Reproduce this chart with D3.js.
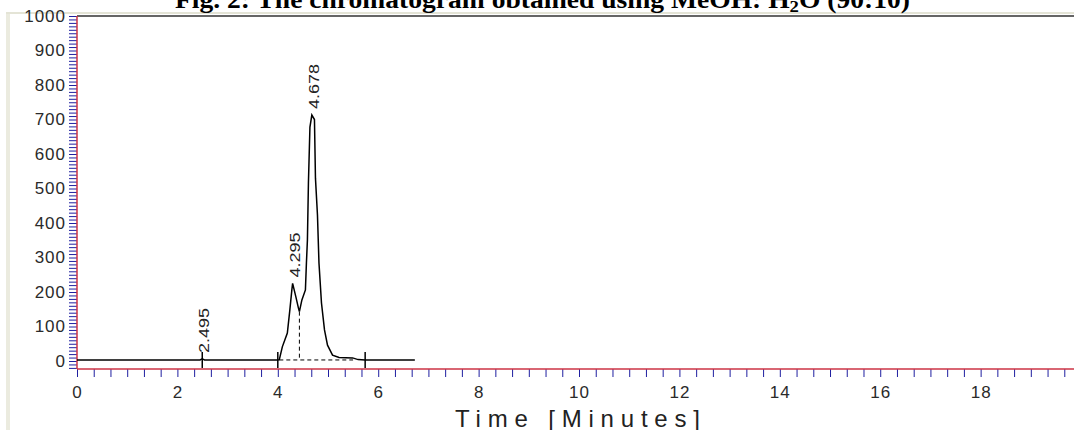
<!DOCTYPE html>
<html>
<head>
<meta charset="utf-8">
<script src="https://cdn.jsdelivr.net/npm/d3@7"></script>
<style>
  body { margin: 0; background: #fff; }
  svg { display: block; }
</style>
</head>
<body>
<script>
// chromatogram trace (minutes, mV)
var times   = [0, 2.45, 2.495, 2.54, 4.0, 4.03, 4.09, 4.19, 4.24, 4.28, 4.295, 4.36, 4.41, 4.43, 4.48, 4.55, 4.57, 4.59, 4.61, 4.64, 4.678, 4.73, 4.75, 4.79, 4.82, 4.87, 4.93, 4.99, 5.09, 5.22, 5.49, 5.6, 5.74, 6.73]
var signal  = [3, 3, 6, 3, 3, 4, 41, 81, 148, 206, 225, 186, 154, 143, 177, 206, 284, 351, 516, 678, 713, 700, 530, 423, 284, 168, 90, 46, 17, 10, 9, 4, 3, 3]

var peakTimes   = [2.495, 4.295, 4.678]
var peakHeights = [6, 225, 713]
var markTimes   = [2.495, 4.0, 5.74]   // integration start/end marks
var dropTime    = 4.43                 // valley drop line
var dropHeight  = 143
var baseStart   = 4.03
var baseEnd     = 5.5
var baseLevel   = 3

var xLabels = [0, 2, 4, 6, 8, 10, 12, 14, 16, 18]
var yLabels = [0, 100, 200, 300, 400, 500, 600, 700, 800, 900, 1000]

var title = "Fig. 2: The chromatogram obtained using MeOH: H"
var screen = {width: 1074, height: 430}

var svg = d3.select("body")
  .append("svg")
  .attr("width", screen.width)
  .attr("height", screen.height)

svg.append("rect")
  .attr("width", screen.width)
  .attr("height", screen.height)
  .attr("fill", "#fff")

var xScale = d3.scaleLinear()
  .domain([0, 19.86])
  .range([77, 1074])

var yScale = d3.scaleLinear()
  .domain([0, 1000])
  .range([361, 16])

// window frame bits
svg.append("rect")
  .attr("x", 6).attr("y", 12)
  .attr("width", 4).attr("height", screen.height - 12)
  .attr("fill", "#ebebdf")
svg.append("rect")
  .attr("x", 6).attr("y", 12)
  .attr("width", screen.width - 6).attr("height", 2)
  .attr("fill", "#e4e4d6")
svg.append("line")
  .attr("x1", 77).attr("x2", screen.width)
  .attr("y1", yScale(1000)).attr("y2", yScale(1000))
  .attr("stroke", "#333").attr("stroke-width", 1.5)

// title, only its bottom shows
var t = svg.append("text")
  .attr("x", 175)
  .attr("y", 8)
  .attr("textLength", 735)
  .attr("lengthAdjust", "spacingAndGlyphs")
  .style("font-family", "'Liberation Serif', 'DejaVu Serif', serif")
  .style("font-weight", "bold")
  .style("font-size", "25px")
t.append("tspan").text(title)
t.append("tspan").attr("dy", 4).style("font-size", "17px").text("2")
t.append("tspan").attr("dy", -4).text("O (90:10)")

// y axis: ticks every 10
var yTicks = d3.range(-20, 1001, 10)
var yAxis = d3.axisLeft(yScale)
  .tickValues(yTicks)
  .tickSize(8)
  .tickPadding(3)
  .tickFormat(function(d) { return yLabels.indexOf(d) >= 0 ? d : "" })

var yG = svg.append("g")
  .attr("transform", "translate(77,0)")
  .call(yAxis)
yG.select(".domain").remove()
yG.selectAll(".tick line").attr("stroke", "#1f1fa0")
yG.selectAll(".tick text")
  .attr("fill", "#2a2a2a")
  .style("font-family", "'Liberation Sans', Arial, sans-serif")
  .style("font-size", "17px")
  .style("letter-spacing", "1px")

// x axis: ticks every 1/3 minute
var xTicks = d3.range(0, 60).map(function(i) { return i / 3 })
var xAxis = d3.axisBottom(xScale)
  .tickValues(xTicks)
  .tickSize(8)
  .tickPadding(9)
  .tickFormat(function(d) {
    var r = Math.round(d)
    return (Math.abs(d - r) < 1e-6 && xLabels.indexOf(r) >= 0) ? r : ""
  })

var xG = svg.append("g")
  .attr("transform", "translate(0,369)")
  .call(xAxis)
xG.select(".domain").remove()
xG.selectAll(".tick line").attr("stroke", "#1f1fa0")
xG.selectAll(".tick text")
  .attr("fill", "#2a2a2a")
  .style("font-family", "'Liberation Sans', Arial, sans-serif")
  .style("font-size", "17px")
  .style("letter-spacing", "1px")

// red axis lines
svg.append("line")
  .attr("x1", 77).attr("x2", 77)
  .attr("y1", yScale(1000)).attr("y2", 369)
  .attr("stroke", "#cc3344").attr("stroke-width", 1.5)
svg.append("line")
  .attr("x1", 77).attr("x2", screen.width)
  .attr("y1", 369).attr("y2", 369)
  .attr("stroke", "#cc3344").attr("stroke-width", 1.5)

svg.append("text")
  .attr("x", 455)
  .attr("y", 427)
  .attr("textLength", 245)
  .attr("lengthAdjust", "spacing")
  .attr("fill", "#222")
  .style("font-family", "'Liberation Sans', Arial, sans-serif")
  .style("font-size", "24px")
  .text("Time  [Minutes]")

// dashed baseline + drop line
svg.append("line")
  .attr("x1", xScale(baseStart)).attr("x2", xScale(baseEnd))
  .attr("y1", yScale(baseLevel)).attr("y2", yScale(baseLevel))
  .attr("stroke", "#000").attr("stroke-dasharray", "4,3")
svg.append("line")
  .attr("x1", xScale(dropTime)).attr("x2", xScale(dropTime))
  .attr("y1", yScale(dropHeight)).attr("y2", yScale(baseLevel))
  .attr("stroke", "#000").attr("stroke-dasharray", "4,3")

// trace
var line = d3.line()
  .x(function(d, i) { return xScale(times[i]) })
  .y(function(d) { return yScale(d) })

svg.append("path")
  .datum(signal)
  .attr("d", line)
  .attr("fill", "none")
  .attr("stroke", "#000")
  .attr("stroke-width", 1.5)

// integration marks
svg.selectAll("line.mark")
  .data(markTimes)
  .enter()
  .append("line")
  .attr("class", "mark")
  .attr("x1", function(d) { return xScale(d) })
  .attr("x2", function(d) { return xScale(d) })
  .attr("y1", yScale(baseLevel) - 8)
  .attr("y2", yScale(baseLevel) + 8)
  .attr("stroke", "#000")
  .attr("stroke-width", 1.5)

// retention time labels
svg.selectAll("text.peak")
  .data(peakTimes)
  .enter()
  .append("text")
  .attr("class", "peak")
  .attr("transform", function(d, i) {
    return "translate(" + (xScale(d) + 7) + "," + (yScale(peakHeights[i]) - 6) + ") rotate(-90)"
  })
  .attr("textLength", 45)
  .attr("lengthAdjust", "spacingAndGlyphs")
  .attr("fill", "#222")
  .style("font-family", "'Liberation Sans', Arial, sans-serif")
  .style("font-size", "14px")
  .text(function(d) { return d3.format(".3f")(d) })
</script>
</body>
</html>
